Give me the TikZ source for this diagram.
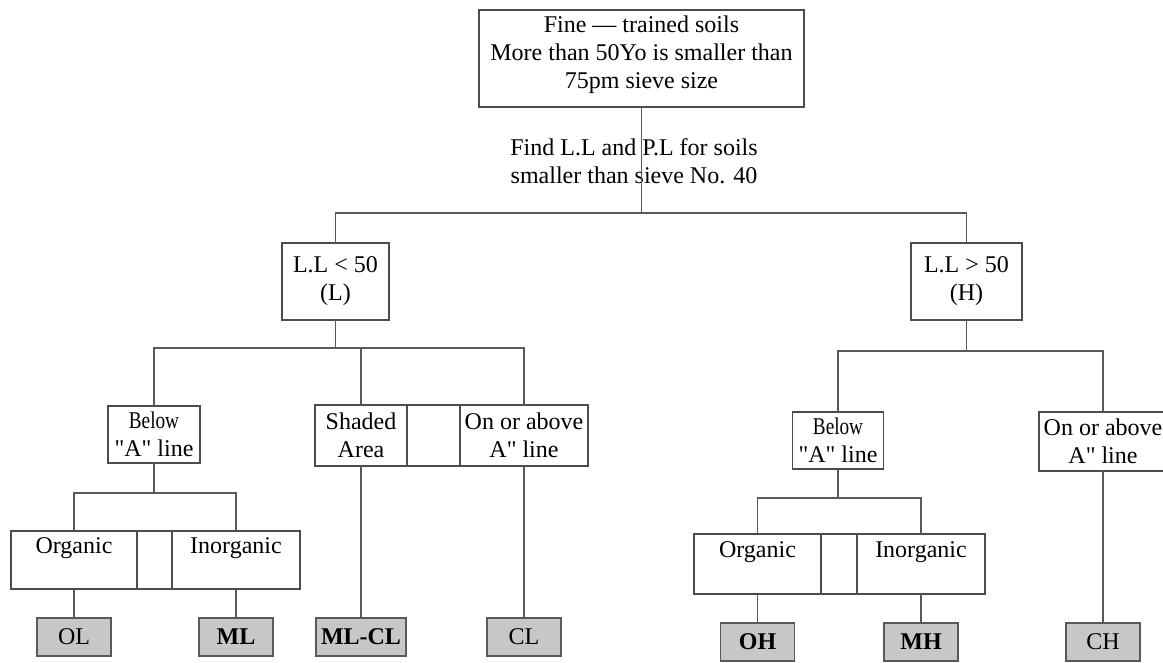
\documentclass[tikz,border=0pt]{standalone}
\usepackage{fontspec}
\setmainfont{Liberation Serif}
\usetikzlibrary{positioning}

\begin{document}
\begin{tikzpicture}[x=0.75pt, y=-0.75pt,
        box/.style={rectangle, draw=black!70, line width=0.8pt, inner sep=0pt, outer sep=0pt, align=center, font=\fontsize{18}{21}\selectfont},
        leaf/.style={box, fill=black!22, draw=black!65, line width=1.3pt, minimum width=55.5pt, minimum height=28.5pt},
        note/.style={align=center, inner sep=0pt, font=\fontsize{18}{21}\selectfont},
        link/.style={draw=black!65, line width=0.9pt}]

        \useasboundingbox (0,0) rectangle (1163,662);

        % Top of the tree
        \node [box, minimum width=243.75pt, minimum height=72.75pt] (fine) at (641.5,58.5)
            {Fine --- trained soils\\More than 50Yo is smaller than\\75pm sieve size\\[-12pt]};
        \node [note] (find) at (634,161) {Find L.L and P.L for soils\\smaller than sieve No. 40};

        \node [box, minimum width=80.25pt, minimum height=57.75pt] (llow) at (335.5,281.5) {L.L < 50\\(L)};
        \node [box, minimum width=83.25pt, minimum height=57.75pt] (lhigh) at (966.5,281.5) {L.L > 50\\(H)};

        % Low plasticity branch
        \node [box, minimum width=69pt, minimum height=42.75pt] (belowL) at (154,434.5)
            {\scalebox{0.8}[1]{Below}\\\textquotedbl A\textquotedbl{} line};
        \node [box, minimum width=69pt, minimum height=45.75pt] (shaded) at (361,435.5) {Shaded\\Area};
        \node [box, minimum width=39.75pt, minimum height=45.75pt, right=0pt of shaded] (gapA) {};
        \node [box, minimum width=96pt, minimum height=45.75pt, right=0pt of gapA] (aboveL) {On or above\\A\textquotedbl{} line};

        \node [box, minimum width=94.5pt, minimum height=43.5pt] (orgL) at (74,560) {Organic\\~};
        \node [box, minimum width=26.25pt, minimum height=43.5pt, right=0pt of orgL] (gapB) {};
        \node [box, minimum width=96pt, minimum height=43.5pt, right=0pt of gapB] (inorgL) {Inorganic\\~};

        \node [leaf] (ol) at (orgL.south |- 0,637) {OL};
        \node [leaf, font=\fontsize{18}{21}\selectfont\bfseries] (ml) at (inorgL.south |- 0,637) {ML};
        \node [leaf, minimum width=67.5pt, font=\fontsize{18}{21}\selectfont\bfseries] (mlcl) at (shaded.south |- 0,637) {ML-CL};
        \node [leaf] (cl) at (aboveL.south |- 0,637) {CL};

        % High plasticity branch
        \node [box, minimum width=68.25pt, minimum height=42.75pt] (belowH) at (838,440.5)
            {\scalebox{0.8}[1]{Below}\\\textquotedbl A\textquotedbl{} line};
        \node [box, minimum width=96pt, minimum height=44.25pt] (aboveH) at (1103,441.5) {On or above\\A\textquotedbl{} line};

        \node [box, minimum width=95.25pt, minimum height=45pt] (orgH) at (757.5,564) {Organic\\~};
        \node [box, minimum width=27pt, minimum height=45pt, right=0pt of orgH] (gapC) {};
        \node [box, minimum width=96pt, minimum height=45pt, right=0pt of gapC] (inorgH) {Inorganic\\~};

        \node [leaf, font=\fontsize{18}{21}\selectfont\bfseries] (oh) at (orgH.south |- 0,642) {OH};
        \node [leaf, font=\fontsize{18}{21}\selectfont\bfseries] (mh) at (inorgH.south |- 0,642) {MH};
        \node [leaf] (ch) at (aboveH.south |- 0,642) {CH};

        % Junctions
        \coordinate (busA) at (641.5,213);
        \coordinate (busB) at (335.5,348);
        \coordinate (busC) at (154,493);
        \coordinate (busD) at (966.5,351);
        \coordinate (busE) at (838,498);

        % Paths
        \path [link] (fine) -- (busA);
        \path [link] (llow.north) |- (busA) -| (lhigh.north);

        \path [link] (llow) -- (busB);
        \path [link] (belowL.north) |- (busB) -| (aboveL.north);
        \path [link] (shaded.north) -- (shaded.north |- busB);
        \path [link] (belowL) -- (busC);
        \path [link] (orgL.north) |- (busC) -| (inorgL.north);
        \path [link] (orgL) -- (ol);
        \path [link] (inorgL) -- (ml);
        \path [link] (shaded) -- (mlcl);
        \path [link] (aboveL) -- (cl);

        \path [link] (lhigh) -- (busD);
        \path [link] (belowH.north) |- (busD) -| (aboveH.north);
        \path [link] (belowH) -- (busE);
        \path [link] (orgH.north) |- (busE) -| (inorgH.north);
        \path [link] (orgH) -- (oh);
        \path [link] (inorgH) -- (mh);
        \path [link] (aboveH) -- (ch);

    \end{tikzpicture}
\end{document}
